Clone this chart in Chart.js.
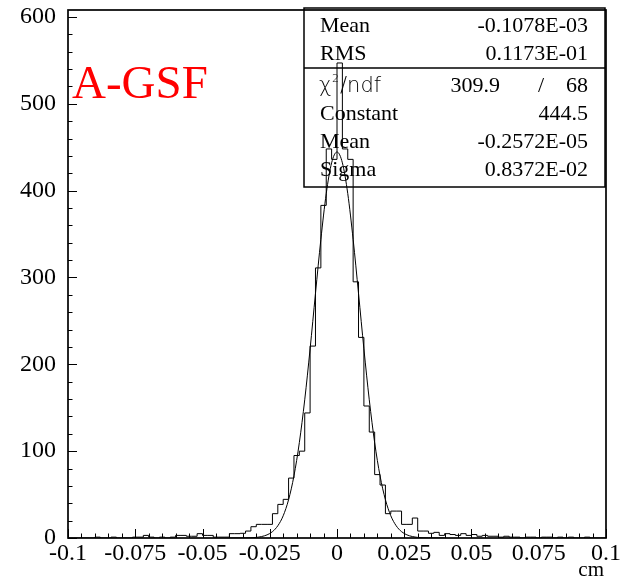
<!DOCTYPE html>
<html>
<head>
<meta charset="utf-8">
<script src="https://cdn.jsdelivr.net/npm/chart.js@4.4.1/dist/chart.umd.min.js"></script>
<style>
  html, body { margin: 0; padding: 0; background: #fff; }
  #wrap { width: 634px; height: 578px; }
</style>
</head>
<body>
<div id="wrap"><canvas id="HistChart" width="634" height="578"></canvas></div>
<script>
// histogram: 100 bins from -0.1 to 0.1 (cm)
var binLow = -0.1;
var binWidth = 0.002;
var counts = [
  0, 0, 0, 0, 0, 1, 0, 0, 1, 0,
  0, 0, 1, 1, 3, 1, 0, 1, 0, 1,
  3, 3, 2, 2, 5, 3, 3, 1, 1, 1,
  5, 5, 5.4, 8, 13, 15.7, 15.7, 15.7, 28, 38.7,
  44.5, 69, 95, 100, 144, 221, 311, 383, 448, 436,
  547, 448, 436, 295, 231, 152, 122, 73, 61, 28,
  31, 31, 15.7, 15.7, 23, 8, 8, 5.4, 6.5, 3,
  5, 4, 3, 5, 3, 4, 2, 3, 2, 2,
  1, 2, 1, 1, 0, 1, 1, 0, 1, 1,
  0, 1, 0, 1, 0, 0, 1, 0, 0, 0
];

// gaussian fit curve
var fitX = [-0.04, -0.034, -0.03, -0.028, -0.026, -0.024, -0.022, -0.02, -0.018, -0.016, -0.014, -0.012, -0.01, -0.008, -0.006, -0.004, -0.002, 0,
            0.002, 0.004, 0.006, 0.008, 0.01, 0.012, 0.014, 0.016, 0.018, 0.02, 0.022, 0.024, 0.026, 0.028, 0.03, 0.034, 0.04];
var fitY = [0, 0.1, 0.7, 1.7, 3.6, 7.3, 14.1, 25.6, 44.1, 71.6, 109.8, 159.1, 217.8, 281.6, 343.8, 396.6, 432.0, 444.5,
            432.0, 396.6, 343.8, 281.6, 217.8, 159.1, 109.8, 71.6, 44.1, 25.6, 14.1, 7.3, 3.6, 1.7, 0.7, 0.1, 0];

var xTicks = [-0.1, -0.075, -0.05, -0.025, 0, 0.025, 0.05, 0.075, 0.1];
var yTicks = [0, 100, 200, 300, 400, 500, 600];

var statLabels = ['Mean', 'RMS'];
var statValues = ['-0.1078E-03', '0.1173E-01'];
var fitLabels = ['Constant', 'Mean', 'Sigma'];
var fitValues = ['444.5', '-0.2572E-05', '0.8372E-02'];
var chi2 = '309.9', ndf = '68';

var histPts = counts.map(function(c, i) { return { x: binLow + i * binWidth, y: c }; });
histPts.push({ x: binLow + counts.length * binWidth, y: counts[counts.length - 1] });
var fitPts = fitX.map(function(x, i) { return { x: x, y: fitY[i] }; });

var SERIF = '"Liberation Serif", "Times New Roman", serif';

function fmt(v) {
  var s = Number(v.toFixed(3)).toString();
  return s === '-0' ? '0' : s;
}

// inward ROOT-like tick marks, frame, stats box and labels
var rootDeco = {
  id: 'rootDeco',
  afterDraw: function(chart) {
    var ctx = chart.ctx, a = chart.chartArea;
    var xs = chart.scales.x, ys = chart.scales.y;
    ctx.save();
    ctx.strokeStyle = '#000';
    ctx.lineWidth = 1.7;
    ctx.strokeRect(a.left, a.top, a.right - a.left, a.bottom - a.top);

    ctx.lineWidth = 1;
    ctx.beginPath();
    for (var i = 0; i <= 40; i++) {
      var v = -0.1 + i * 0.005;
      var px = Math.round(xs.getPixelForValue(v)) + 0.5;
      var len = (i % 5 === 0) ? 9 : 4.5;
      ctx.moveTo(px, a.bottom);
      ctx.lineTo(px, a.bottom - len);
    }
    for (var j = 0; j <= 30; j++) {
      var py = Math.round(ys.getPixelForValue(j * 20)) + 0.5;
      var l2 = (j % 5 === 0) ? 9 : 4.5;
      ctx.moveTo(a.left, py);
      ctx.lineTo(a.left + l2, py);
    }
    ctx.stroke();

    // stats box
    ctx.lineWidth = 1.5;
    ctx.strokeRect(304, 8, 301, 179);
    ctx.beginPath();
    ctx.moveTo(304, 68);
    ctx.lineTo(605, 68);
    ctx.stroke();

    ctx.fillStyle = '#000';
    ctx.font = '22px ' + SERIF;
    var rowsTop = [32, 60];
    for (var r = 0; r < statLabels.length; r++) {
      ctx.textAlign = 'left';
      ctx.fillText(statLabels[r], 320, rowsTop[r]);
      ctx.textAlign = 'right';
      ctx.fillText(statValues[r], 588, rowsTop[r]);
    }
    var rowsFit = [120, 148, 176];
    for (var f = 0; f < fitLabels.length; f++) {
      ctx.textAlign = 'left';
      ctx.fillText(fitLabels[f], 320, rowsFit[f]);
      ctx.textAlign = 'right';
      ctx.fillText(fitValues[f], 588, rowsFit[f]);
    }
    // chi2 / ndf row
    ctx.textAlign = 'left';
    ctx.font = '300 21px "DejaVu Sans", sans-serif';
    ctx.fillText('\u03c7', 319, 92);
    ctx.font = '300 11px "DejaVu Sans", sans-serif';
    ctx.fillText('2', 332, 82);
    ctx.font = '300 21px "DejaVu Sans", sans-serif';
    ctx.fillText('/ndf', 340, 92);
    ctx.font = '22px ' + SERIF;
    ctx.textAlign = 'right';
    ctx.fillText(chi2, 500, 92);
    ctx.fillText(ndf, 588, 92);
    ctx.textAlign = 'center';
    ctx.fillText('/', 541, 92);

    // axis title
    ctx.textAlign = 'right';
    ctx.font = '21px ' + SERIF;
    ctx.fillText('cm', 604, 576);

    // tag
    ctx.textAlign = 'left';
    ctx.fillStyle = '#ff0000';
    ctx.font = '47px ' + SERIF;
    ctx.fillText('A-GSF', 72, 98);
    ctx.restore();
  }
};

new Chart(document.getElementById('HistChart'), {
  type: 'line',
  data: {
    datasets: [{
      data: histPts,
      stepped: 'before',
      borderColor: '#000',
      borderWidth: 1,
      pointRadius: 0,
      fill: false
    }, {
      data: fitPts,
      borderColor: '#000',
      borderWidth: 1,
      pointRadius: 0,
      cubicInterpolationMode: 'monotone',
      fill: false
    }]
  },
  options: {
    responsive: false,
    animation: false,
    events: [],
    layout: { padding: { left: 0, right: 28, top: 10, bottom: 0 } },
    plugins: { legend: { display: false }, tooltip: { enabled: false } },
    scales: {
      x: {
        type: 'linear',
        min: -0.1,
        max: 0.1,
        grid: { display: false, drawTicks: false },
        border: { display: false },
        afterFit: function(s) { s.height = 40; s.paddingLeft = 0; s.paddingRight = 0; },
        afterBuildTicks: function(s) { s.ticks = xTicks.map(function(v) { return { value: v }; }); },
        ticks: {
          padding: 1,
          maxRotation: 0,
          autoSkip: false,
          color: '#000',
          font: { family: SERIF, size: 24 },
          callback: function(v) { return fmt(v); }
        }
      },
      y: {
        min: 0,
        max: 608,
        grid: { display: false, drawTicks: false },
        border: { display: false },
        afterFit: function(s) { s.width = 68; s.paddingTop = 0; s.paddingBottom = 0; },
        afterBuildTicks: function(s) { s.ticks = yTicks.map(function(v) { return { value: v }; }); },
        ticks: {
          padding: 12,
          color: '#000',
          font: { family: SERIF, size: 24 }
        }
      }
    }
  },
  plugins: [rootDeco]
});
</script>
</body>
</html>
